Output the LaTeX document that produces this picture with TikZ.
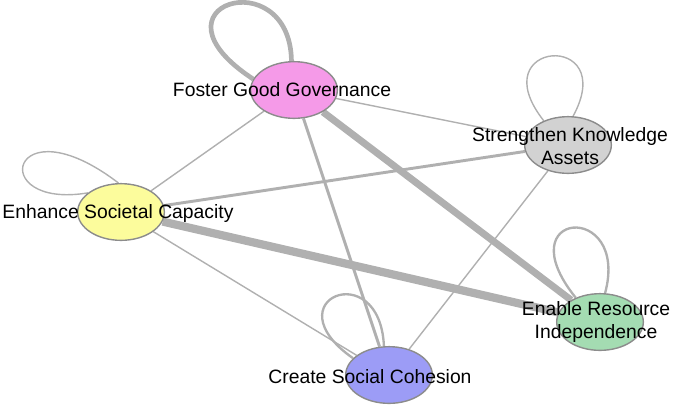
\documentclass[tikz,border=0pt]{standalone}
\usepackage{fontspec}
\setmainfont{Liberation Sans}
\usetikzlibrary{shapes.geometric,backgrounds}
\definecolor{pinkn}{HTML}{F59AE8}
\definecolor{grayn}{HTML}{D2D2D2}
\definecolor{yellown}{HTML}{FCFC9C}
\definecolor{greenn}{HTML}{A4DCB2}
\definecolor{bluen}{HTML}{9C9CF6}
\definecolor{edgec}{HTML}{B0B0B0}
\begin{document}
\begin{tikzpicture}[x=0.03cm,y=-0.03cm,
    ell/.style={ellipse, draw=black!45, line width=1.2pt, minimum width=2.6cm, minimum height=1.7cm, inner sep=0pt},
    txt/.style={font=\fontsize{16.5}{19}\selectfont, align=center},
    link/.style={draw=edgec, line width=#1},
    link/.default=1.2pt
    ]
  \useasboundingbox (0,0) rectangle (685,406);
  \node[ell, fill=pinkn] (fgg) at (294,90) {};
  \node[ell, fill=grayn] (ska) at (568,145) {};
  \node[ell, fill=yellown] (esc) at (121,212) {};
  \node[ell, fill=greenn] (eri) at (600,322) {};
  \node[ell, fill=bluen] (csc) at (389,375) {};
  \node[txt] (fggT) at (282,90) {Foster Good Governance};
  \node[txt] (skaT) at (570,146) {Strengthen Knowledge\\Assets};
  \node[txt] (escT) at (118,213) {Enhance Societal Capacity};
  \node[txt] (eriT) at (596,322) {Enable Resource\\Independence};
  \node[txt] (cscT) at (370,377) {Create Social Cohesion};
  \begin{scope}[on background layer]
    % links between goals
    \draw[link=6pt] (fgg) -- (eri);
    \draw[link=7pt] (esc) -- (eri);
    \draw[link] (fgg) -- (ska);
    \draw[link] (fgg) -- (esc);
    \draw[link=2.5pt] (fgg) -- (csc);
    \draw[link=2.5pt] (esc) -- (ska);
    \draw[link] (esc) -- (csc);
    \draw[link] (ska) -- (csc);
    % self loops
    \draw[link=4pt] (fgg.165) .. controls (140,5) and (290,-40) .. (fgg.95);
    \draw[link] (ska.135) .. controls (480,40) and (620,30) .. (ska.80);
    \draw[link] (esc.150) .. controls (-15,210) and (10,100) .. (esc.95);
    \draw[link=2pt] (eri.135) .. controls (505,210) and (630,200) .. (eri.80);
    \draw[link=2pt] (csc.155) .. controls (270,300) and (380,255) .. (csc.100);
  \end{scope}
\end{tikzpicture}
\end{document}
